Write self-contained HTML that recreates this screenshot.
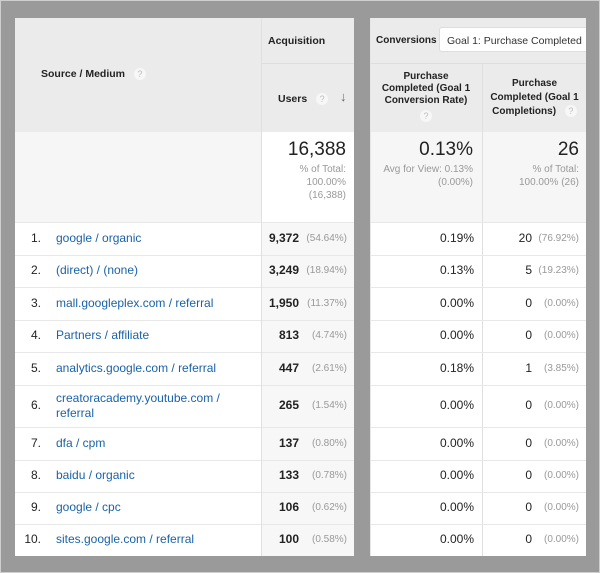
<!DOCTYPE html>
<html><head><meta charset="utf-8">
<style>
*{margin:0;padding:0;box-sizing:border-box}
body{width:600px;height:573px;background:#9a9a9a;position:relative;overflow:hidden;font-family:"Liberation Sans",Arial,sans-serif;border:1px solid #cfcfcf}
.a{position:absolute}
.hd{background:#ebebeb}
.b{font-weight:bold;font-size:10.5px;color:#222}
.q{display:inline-block;width:12px;height:12px;border-radius:50%;background:#f7f7f7;color:#bbb;font-size:9px;text-align:center;line-height:12px;font-weight:normal;vertical-align:middle;margin-left:6px}
.cell{position:absolute;font-size:12px;white-space:nowrap}
.lk{color:#1a62a8}
.g{color:#999;font-size:10px}
.line{position:absolute;height:1px;background:#e8e8e8}
</style></head><body>
<div class="a" style="left:14px;top:17px;width:339px;height:538px;background:#fff"></div>
<div class="a" style="left:369px;top:17px;width:216px;height:538px;background:#fff;overflow:hidden">
  <div class="a hd" style="left:0;top:0;width:216px;height:45px"></div>
  <div class="a" style="left:69px;top:9px;width:150px;height:25px;background:#fff;border:1px solid #ddd;border-radius:3px;font-size:10.5px;color:#333;padding:7px 0 0 7px;white-space:nowrap">Goal 1: Purchase Completed</div>
</div>
<!-- headers -->
<div class="a hd" style="left:14px;top:17px;width:246px;height:114px"></div>
<div class="a b" style="left:40px;top:67px">Source / Medium <span class="q">?</span></div>
<div class="a hd" style="left:261px;top:17px;width:92px;height:45px"></div>
<div class="a b" style="left:267px;top:34px">Acquisition</div>
<div class="a hd" style="left:261px;top:63px;width:92px;height:68px"></div>
<div class="a b" style="left:277px;top:92px">Users <span class="q">?</span></div>
<div class="a" style="left:339px;top:88px;color:#666;font-size:13px">↓</div>
<div class="a b" style="left:375px;top:34px;font-size:10px">Conversions</div>
<div class="a hd" style="left:369px;top:63px;width:112px;height:68px"></div>
<div class="a b" style="left:369px;top:70px;width:112px;text-align:center;line-height:12px;font-size:10px">Purchase<br>Completed (Goal 1<br>Conversion Rate)<br><span class="q" style="margin:3px 0 0">?</span></div>
<div class="a hd" style="left:482px;top:63px;width:103px;height:68px"></div>
<div class="a b" style="left:482px;top:76px;width:103px;text-align:center;line-height:14px;font-size:10px">Purchase<br>Completed (Goal 1<br>Completions) <span class="q">?</span></div>
<!-- summary -->
<div class="a" style="left:14px;top:131px;width:246px;height:90px;background:#f6f6f6"></div>
<div class="a" style="left:369px;top:131px;width:216px;height:90px;background:#f6f6f6"></div>
<div class="a" style="left:261px;top:138px;width:84px;text-align:right;font-size:19px;color:#222">16,388</div>
<div class="a g" style="left:261px;top:162px;width:84px;text-align:right;line-height:13px">% of Total:<br>100.00%<br>(16,388)</div>
<div class="a" style="left:369px;top:138px;width:103px;text-align:right;font-size:19px;color:#222">0.13%</div>
<div class="a g" style="left:369px;top:162px;width:103px;text-align:right;line-height:13px">Avg for View: 0.13%<br>(0.00%)</div>
<div class="a" style="left:482px;top:138px;width:96px;text-align:right;font-size:19px;color:#222">26</div>
<div class="a g" style="left:482px;top:162px;width:96px;text-align:right;line-height:13px">% of Total:<br>100.00% (26)</div>
<div class="a" style="left:260px;top:17px;width:1px;height:538px;background:#e0e0e0"></div>
<div class="a" style="left:481px;top:63px;width:1px;height:492px;background:#e0e0e0"></div>
<div class="a" style="left:261px;top:62px;width:92px;height:1px;background:#ddd"></div>
<div class="a" style="left:369px;top:62px;width:216px;height:1px;background:#ddd"></div>
<div class="a" style="left:369px;top:17px;width:1px;height:538px;background:#e6e6e6"></div>
<div id="rows"></div>
<script>
const sources=["google / organic","(direct) / (none)","mall.googleplex.com / referral","Partners / affiliate","analytics.google.com / referral","creatoracademy.youtube.com /<br>referral","dfa / cpm","baidu / organic","google / cpc","sites.google.com / referral"];
const users=["9,372","3,249","1,950","813","447","265","137","133","106","100"];
const userPct=["(54.64%)","(18.94%)","(11.37%)","(4.74%)","(2.61%)","(1.54%)","(0.80%)","(0.78%)","(0.62%)","(0.58%)"];
const convRate=["0.19%","0.13%","0.00%","0.00%","0.18%","0.00%","0.00%","0.00%","0.00%","0.00%"];
const completions=["20","5","0","0","1","0","0","0","0","0"];
const compPct=["(76.92%)","(19.23%)","(0.00%)","(0.00%)","(3.85%)","(0.00%)","(0.00%)","(0.00%)","(0.00%)","(0.00%)"];
const R=document.getElementById('rows');
let y=221;
const hs=[33,32,33,32,33,42,33,32,32,32];
function add(html,st){const d=document.createElement('div');d.className='cell';d.style.cssText=st;d.innerHTML=html;R.appendChild(d);return d;}
sources.forEach((s,i)=>{
  const h=hs[i];const mid=y+h/2-8;
  const bg=document.createElement('div');bg.className='a';bg.style.cssText=`left:261px;top:${y}px;width:92px;height:${h}px;background:#f7f7f7`;
  
  
  R.appendChild(bg);
  [[14,246],[261,92],[369,216]].forEach(([x,w])=>{const l=document.createElement('div');l.className='line';l.style.cssText=`left:${x}px;top:${y}px;width:${w}px`;R.appendChild(l);});
  const n=add((i+1)+'.',`left:14px;top:${mid}px;width:26px;text-align:right;color:#222`);
  
  
  const two=s.includes('<br>');
  const lk=add(s,`left:55px;top:${two?y+6:mid}px;line-height:15px`);lk.classList.add('lk');
  
  
  const u=add(users[i],`left:250px;top:${mid}px;width:48px;text-align:right;font-weight:bold;color:#222`);
  
  
  const up=add(userPct[i],`left:296px;top:${mid+2}px;width:50px;text-align:right`);up.classList.add('g');
  
  
  const c=add(convRate[i],`left:369px;top:${mid}px;width:104px;text-align:right;color:#222`);
  
  
  const cc=add(completions[i],`left:482px;top:${mid}px;width:49px;text-align:right;color:#222`);
  
  
  const cp=add(compPct[i],`left:528px;top:${mid+2}px;width:50px;text-align:right`);cp.classList.add('g');
  
  
  y+=h;
});
</script>
</body></html>
